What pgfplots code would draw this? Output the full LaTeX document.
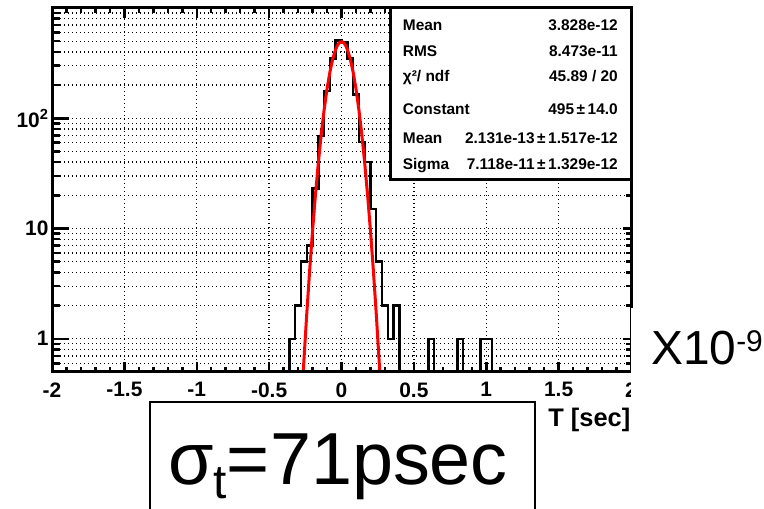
\documentclass[border=0pt]{standalone}
\usepackage{pgfplots}
\pgfplotsset{compat=1.18}
\usepackage{fontspec}
\setmainfont{Liberation Sans}

\begin{document}
\begin{tikzpicture}[x=1bp,y=1bp]
\useasboundingbox (0,0) rectangle (764,509);
% main histogram frame
\begin{axis}[
    at={(52bp,137bp)}, anchor=south west,
    width=579bp, height=364bp, scale only axis,
    xmin=-2, xmax=2,
    ymode=log, ymin=0.5, ymax=1000,
    xtick={-2,-1.5,-1,-0.5,0,0.5,1,1.5,2},
    xticklabels={-2,-1.5,-1,-0.5,0,0.5,1,1.5,2},
    minor x tick num=4,
    ytick={1,10,100},
    yticklabels={1,10,10\textsuperscript{2}},
    minor ytick={0.6,0.7,0.8,0.9,2,3,4,5,6,7,8,9,20,30,40,50,60,70,80,90,200,300,400,500,600,700,800,900},
    ytick pos=left,
    xmajorgrids, ymajorgrids, yminorgrids,
    grid style={black, line width=1.3bp, dash pattern=on 1.3bp off 2.7bp},
    axis line style={line width=3bp},
    tick style={black, line width=2.5bp},
    major tick length=17bp, minor tick length=8bp,
    xtick style={/pgfplots/major tick length=10bp, /pgfplots/minor tick length=5bp},
    ticklabel style={font=\bfseries\fontsize{21}{21}\selectfont},
    xticklabel style={yshift=-7bp},
]
% histogram, bins of 0.04 (empty bins put below ymin)
\addplot[const plot mark left, black, line width=2.5bp] coordinates {
(-0.40,0.1) (-0.36,1) (-0.32,2) (-0.28,5) (-0.24,7) (-0.20,23) (-0.16,69)
(-0.12,177) (-0.08,350) (-0.04,508) (0.00,492) (0.04,350) (0.08,165)
(0.12,61) (0.16,40) (0.20,15) (0.24,5) (0.28,2) (0.32,1) (0.36,2)
(0.40,0.1) (0.60,0.1) (0.60,1) (0.64,0.1) (0.80,0.1) (0.80,1) (0.84,0.1)
(0.96,0.1) (0.96,1) (1.00,1) (1.04,0.1) (1.08,0.1)
};
% gaussian fit
\addplot[red, line width=3bp] coordinates {
(-0.28,0.217) (-0.26,0.629) (-0.24,1.687) (-0.22,4.18) (-0.20,9.57)
(-0.18,20.26) (-0.16,39.6) (-0.14,71.6) (-0.12,119.6) (-0.10,184.6)
(-0.08,263.3) (-0.06,347.1) (-0.04,422.7) (-0.03,453.0) (-0.02,475.8)
(-0.01,490.1) (0.00,495) (0.01,490.1) (0.02,475.8) (0.03,453.0)
(0.04,422.7) (0.06,347.1) (0.08,263.3) (0.10,184.6) (0.12,119.6)
(0.14,71.6) (0.16,39.6) (0.18,20.26) (0.20,9.57) (0.22,4.18)
(0.24,1.687) (0.26,0.629) (0.28,0.217)
};
\end{axis}
% right-hand ticks (shorter)
\begin{axis}[
    at={(52bp,137bp)}, anchor=south west,
    width=579bp, height=364bp, scale only axis,
    xmin=-2, xmax=2,
    ymode=log, ymin=0.5, ymax=1000,
    xtick=\empty,
    ytick={1,10,100}, yticklabels={},
    minor ytick={0.6,0.7,0.8,0.9,2,3,4,5,6,7,8,9,20,30,40,50,60,70,80,90,200,300,400,500,600,700,800,900},
    ytick pos=right,
    axis line style={line width=3bp},
    tick style={black, line width=2.5bp},
    major tick length=8bp, minor tick length=5bp,
]
\addplot[draw=none] coordinates {(0,1)};
\end{axis}
% stats box
\draw[line width=3bp, fill=white] (390,329) rectangle (631,501);
\begin{scope}[every node/.style={inner sep=0, font=\bfseries\fontsize{15.5}{15.5}\selectfont}]
\node[anchor=base west] at (402.7,478) {Mean};
\node[anchor=base east] at (618,478) {3.828e-12};
\node[anchor=base west] at (402.7,452.3) {RMS};
\node[anchor=base east] at (618,452.3) {8.473e-11};
\node[anchor=base west] at (402.7,427.3) {χ²/ ndf};
\node[anchor=base east] at (618,427.3) {45.89 / 20};
\node[anchor=base west] at (402.7,394) {Constant};
\node[anchor=base east] at (618,394) {495\,±\,14.0};
\node[anchor=base west] at (402.7,365.7) {Mean};
\node[anchor=base east] at (618,365.7) {2.131e-13\,±\,1.517e-12};
\node[anchor=base west] at (402.7,339) {Sigma};
\node[anchor=base east] at (618,339) {7.118e-11\,±\,1.329e-12};
\end{scope}
% x label
\node[anchor=north east, inner sep=0, font=\bfseries\fontsize{25.5}{25.5}\selectfont] at (630.5,101) {T [sec]};
% overlay box with scale factor
\fill[white] (631,100) rectangle (764,201);
\node[anchor=base west, inner sep=0, font=\fontsize{48}{48}\selectfont] at (651,144) {X10\raisebox{13bp}{\fontsize{30}{30}\selectfont -9}};
% resolution box
\draw[line width=1.5bp] (150,-20) rectangle (535,107);
\node[anchor=base west, inner sep=0, font=\fontsize{74}{74}\selectfont] at (168,24) {σ\raisebox{-14bp}{\fontsize{48}{48}\selectfont t}=71psec};
\end{tikzpicture}
\end{document}
